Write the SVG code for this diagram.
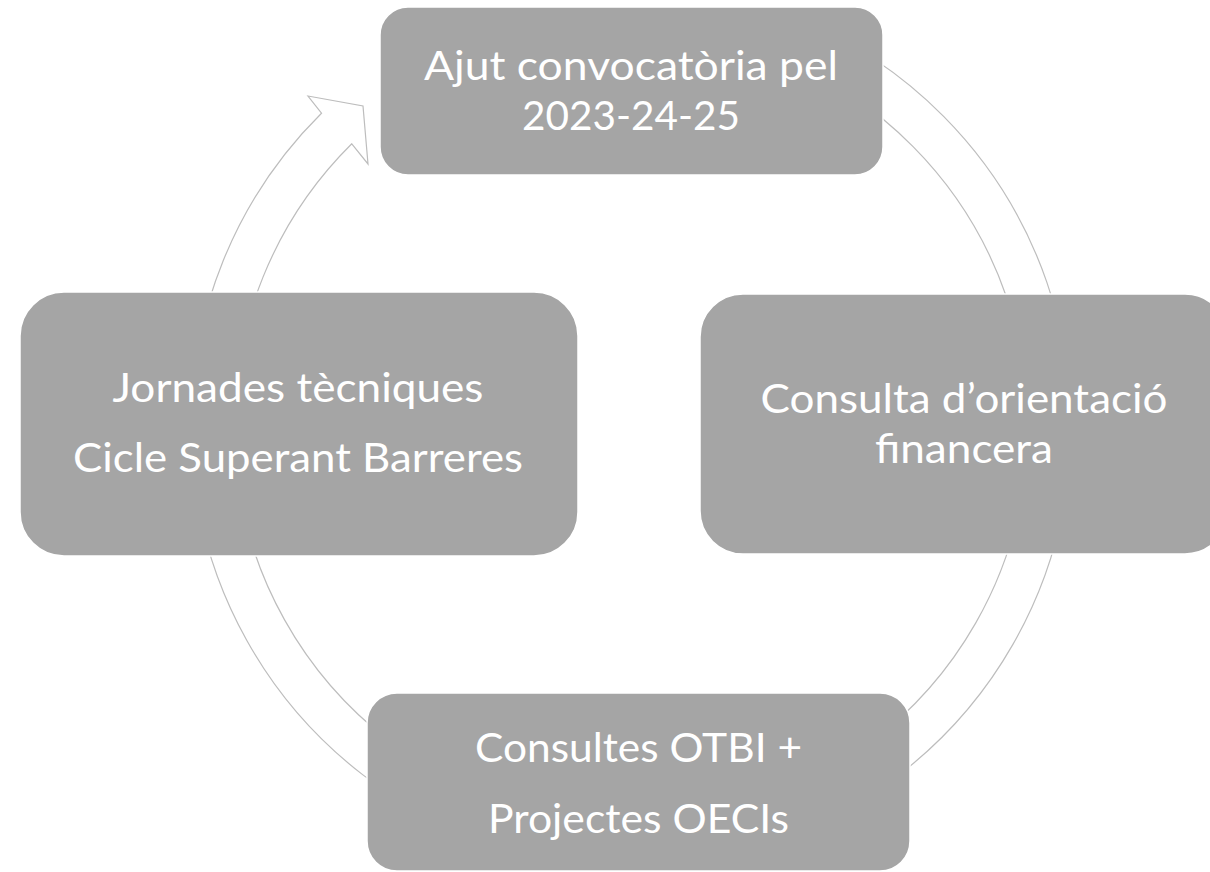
<svg xmlns="http://www.w3.org/2000/svg" width="1210" height="872" viewBox="0 0 1210 872">
  <style>
    .box { fill: #A5A5A5; stroke: #FFFFFF; stroke-width: 1.5; }
    .lbl { fill: #FFFFFF; font-family: Lato, "Open Sans", "Liberation Sans", sans-serif; font-size: 41.5px; text-anchor: middle; }
    .ring { fill: #FFFFFF; stroke: #BDBDBD; stroke-width: 1.2; stroke-linejoin: miter; }
  </style>
  <rect x="0" y="0" width="1210" height="872" fill="#FFFFFF"/>
  <g id="connectors">
    <path class="ring" d="M 795.8 18.0 A 440 440 0 1 1 321.5 113.2 L 308 96 L 363 106 L 368 164 L 351.8 143.8 A 397 397 0 1 0 779.7 57.9 Z"/>
  </g>
  <g id="node-top">
    <rect class="box" x="380" y="7" width="503" height="168" rx="28" ry="28"/>
    <text class="lbl" x="631" y="80" textLength="414" lengthAdjust="spacingAndGlyphs">Ajut convocatòria pel</text>
    <text class="lbl" x="631" y="130" textLength="218" lengthAdjust="spacingAndGlyphs">2023-24-25</text>
  </g>
  <g id="node-right">
    <rect class="box" x="700" y="294" width="528" height="260" rx="43" ry="43"/>
    <text class="lbl" x="964" y="413" textLength="407" lengthAdjust="spacingAndGlyphs">Consulta d’orientació</text>
    <text class="lbl" x="964" y="463" textLength="178" lengthAdjust="spacingAndGlyphs">financera</text>
  </g>
  <g id="node-bottom">
    <rect class="box" x="367" y="693" width="543" height="178" rx="30" ry="30"/>
    <text class="lbl" x="638.5" y="762" textLength="327" lengthAdjust="spacingAndGlyphs">Consultes OTBI +</text>
    <text class="lbl" x="638.5" y="833" textLength="301" lengthAdjust="spacingAndGlyphs">Projectes OECIs</text>
  </g>
  <g id="node-left">
    <rect class="box" x="20" y="292" width="558" height="264" rx="44" ry="44"/>
    <text class="lbl" x="298" y="402" textLength="371" lengthAdjust="spacingAndGlyphs">Jornades tècniques</text>
    <text class="lbl" x="298" y="472" textLength="450" lengthAdjust="spacingAndGlyphs">Cicle Superant Barreres</text>
  </g>
</svg>
